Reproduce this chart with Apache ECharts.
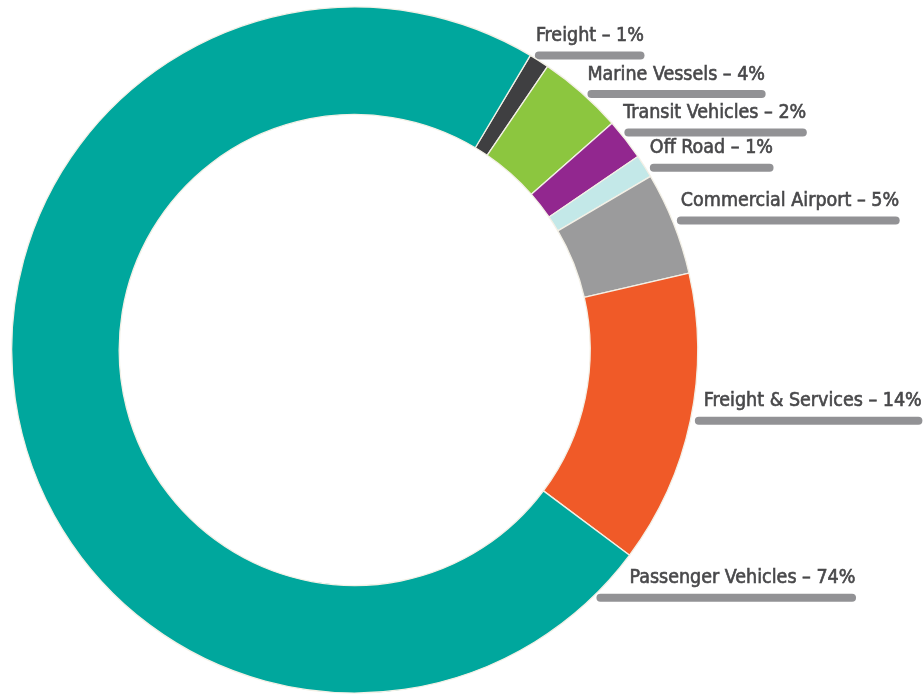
<!DOCTYPE html>
<html>
<head>
<meta charset="utf-8">
<script src="https://cdn.jsdelivr.net/npm/echarts@6/dist/echarts.min.js"></script>
<style>
  html, body { margin: 0; padding: 0; background: #ffffff; }
  #main { width: 923px; height: 696px; }
</style>
</head>
<body>
<div id="main"></div>
<script>
// ---- data ----
const categories = ['Freight', 'Marine Vessels', 'Transit Vehicles', 'Off Road', 'Commercial Airport', 'Freight & Services', 'Passenger Vehicles'];
const shares = [0.95, 4.0, 1.95, 1.1, 4.85, 13.8, 73.35];       // slice sizes
const labelPercents = [1, 4, 2, 1, 5, 14, 74];                  // percentages printed in labels

// ---- styles / layout ----
const colors = ['#3f3f41', '#8cc63f', '#92278f', '#c3e8e8', '#9b9b9c', '#f05a28', '#00a79d'];
const CX = 354.7, CY = 350, R_IN = 235.5, R_OUT = 343;
const START_ANGLE = 59.2;                     // ECharts degrees (90 = top)
const labelAngleNudge = [-1.7, 0.3, -1.5, 0.3, -0.5, 0, 0];
const textIndent = [1, 0, -1, 0, 4, 9, 33];
const BAR_W = 8, BAR_GAP = 4.5, TEXT_ABOVE = 19.4, LEFT_SIDE_OFFSET = 9.5;

const total = shares.reduce((a, b) => a + b, 0);
const anchorAngles = (function () {
  const out = [];
  let a = 90 - START_ANGLE;                   // degrees clockwise from top
  shares.forEach((v, i) => {
    const span = v / total * 360;
    let mid = a + span / 2;
    if (Math.sin(mid * Math.PI / 180) < 0) mid = a + LEFT_SIDE_OFFSET;
    out.push(mid + labelAngleNudge[i]);
    a += span;
  });
  return out;
})();

const chart = echarts.init(document.getElementById('main'), null, { renderer: 'canvas' });
chart.setOption({
  backgroundColor: '#ffffff',
  animation: false,
  series: [{
    type: 'pie',
    center: [CX, CY],
    radius: [R_IN, R_OUT],
    startAngle: START_ANGLE,
    clockwise: true,
    avoidLabelOverlap: false,
    emphasis: { disabled: true },
    itemStyle: { borderColor: '#f3f0e6', borderWidth: 1.3 },
    label: {
      show: true,
      position: 'outside',
      formatter: p => categories[p.dataIndex] + ' – ' + labelPercents[p.dataIndex] + '%',
      color: '#48484a',
      textBorderColor: '#48484a',
      textBorderWidth: 0.6,
      fontFamily: "'DejaVu Sans Condensed', 'Liberation Sans Narrow', 'Roboto', sans-serif",
      fontSize: 19.5
    },
    labelLine: {
      show: true,
      length: 0,
      length2: 0,
      smooth: false,
      lineStyle: { color: '#929295', width: BAR_W, cap: 'round' }
    },
    labelLayout: function (params) {
      const i = params.dataIndex;
      const t = anchorAngles[i] * Math.PI / 180;
      const barY = CY - R_OUT * Math.cos(t);
      const edgeX = CX + R_OUT * Math.sin(t);
      const barStart = edgeX + BAR_GAP;
      const textX = barStart + textIndent[i];
      const textRight = textX + params.labelRect.width;
      return {
        x: textX,
        y: barY - TEXT_ABOVE,
        align: 'left',
        verticalAlign: 'middle',
        labelLinePoints: [
          [barStart + BAR_W / 2, barY],
          [barStart + BAR_W / 2, barY],
          [textRight - BAR_W / 2, barY]
        ]
      };
    },
    data: categories.map((name, i) => ({
      name: name,
      value: shares[i],
      itemStyle: { color: colors[i] }
    }))
  }]
});
</script>
</body>
</html>
